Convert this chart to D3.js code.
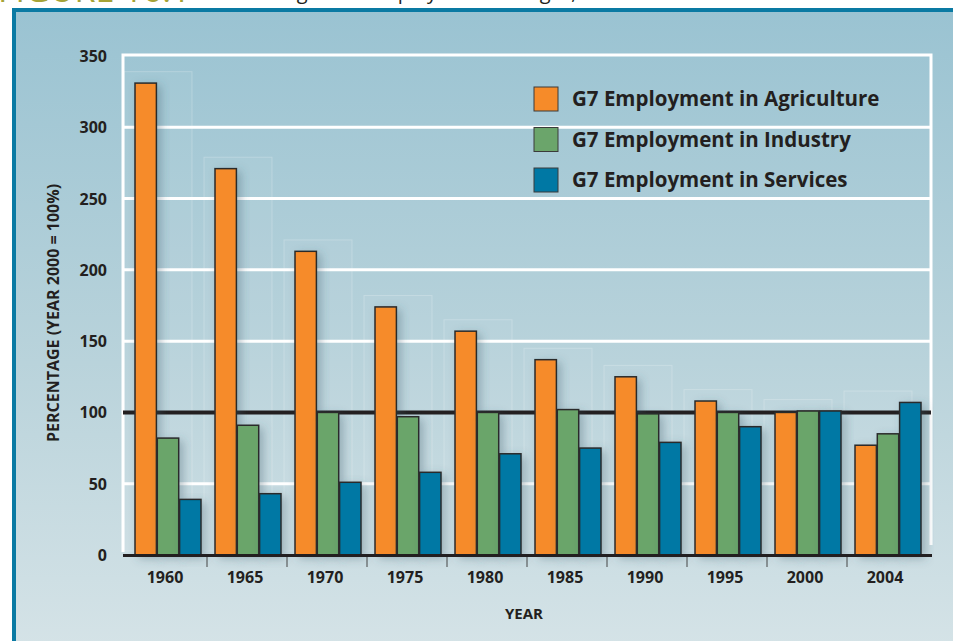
<!DOCTYPE html>
<html>
<head>
    <script src="https://d3js.org/d3.v7.min.js"></script>
    <style type="text/css">
        body { margin: 0; background: #ffffff; overflow: hidden; }
        svg { display: block; }
        text { font-family: "Open Sans", Lato, sans-serif; font-weight: 700; fill: #231f20; }
    </style>
</head>
<body>
    <script type="text/javascript">

        // chart data (percent of year-2000 level)
        var years = ["1960", "1965", "1970", "1975", "1980", "1985", "1990", "1995", "2000", "2004"];
        var agriculture = [331, 271, 213, 174, 157, 137, 125, 108, 100, 77];
        var industry = [82, 91, 100, 97, 100, 102, 99, 100, 101, 85];
        var services = [39, 43, 51, 58, 71, 75, 79, 90, 101, 107];
        var seriesNames = ["G7 Employment in Agriculture", "G7 Employment in Industry", "G7 Employment in Services"];
        var yTicks = [0, 50, 100, 150, 200, 250, 300, 350];

        var w = 953;
        var h = 641;
        var colors = ["#f68b29", "#6ba56b", "#0078a4"];

        var svg = d3.select("body")
            .append("svg")
            .attr("width", w)
            .attr("height", h);

        var defs = svg.append("defs");

        // panel background gradient
        var grad = defs.append("linearGradient")
            .attr("id", "bg")
            .attr("x1", 0).attr("y1", 0)
            .attr("x2", 0).attr("y2", 1);
        grad.append("stop").attr("offset", "0%").attr("stop-color", "#9ac3d2");
        grad.append("stop").attr("offset", "55%").attr("stop-color", "#b9d3db");
        grad.append("stop").attr("offset", "100%").attr("stop-color", "#d5e3e7");

        // soft shadow for the bars
        var shadow = defs.append("filter")
            .attr("id", "shadow")
            .attr("x", "-40%").attr("y", "-10%")
            .attr("width", "200%").attr("height", "130%");
        shadow.append("feDropShadow")
            .attr("dx", 4).attr("dy", 3)
            .attr("stdDeviation", 5)
            .attr("flood-color", "#3c5a66")
            .attr("flood-opacity", 0.35);

        // figure heading, mostly cut off at the top (as in the source page)
        svg.append("text")
            .attr("x", -2).attr("y", 2)
            .style("font-size", "34px")
            .style("fill", "#a6a336")
            .style("font-weight", 400)
            .text("FIGURE 16.1");
        svg.append("text")
            .attr("x", 262).attr("y", -1)
            .style("font-size", "20px")
            .style("font-weight", 400)
            .text("Long-Term Employment Changes, G7");

        // panel with blue border on top and left
        svg.append("rect")
            .attr("x", 14).attr("y", 10)
            .attr("width", w).attr("height", h)
            .attr("fill", "url(#bg)");
        svg.append("rect")
            .attr("x", 12).attr("y", 8)
            .attr("width", w).attr("height", 4)
            .attr("fill", "#0a7aa3");
        svg.append("rect")
            .attr("x", 12).attr("y", 8)
            .attr("width", 4).attr("height", h)
            .attr("fill", "#0a7aa3");

        var plotLeft = 123, plotRight = 931, plotTop = 56, plotBottom = 555;

        var x0 = d3.scaleBand()
            .domain(years)
            .range([127, 927])
            .paddingInner(0)
            .paddingOuter(0);

        var x1 = d3.scaleBand()
            .domain([0, 1, 2])
            .range([8, x0.bandwidth() - 6])
            .paddingInner(0.04);

        var yScale = d3.scaleLinear()
            .domain([0, 350])
            .range([plotBottom, plotTop]);

        function groupMax(i) {
            return Math.max(agriculture[i], industry[i], services[i]);
        }

        // faint decorative frames behind the groups
        svg.selectAll("rect.ghost")
            .data(years)
            .enter()
            .append("rect")
            .attr("class", "ghost")
            .attr("x", function(d) { return x0(d) - 3; })
            .attr("y", function(d, i) { return yScale(groupMax(i) + 8); })
            .attr("width", x0.bandwidth() * 0.85)
            .attr("height", function(d, i) { return plotBottom - 4 - yScale(groupMax(i) + 8); })
            .attr("fill", "rgba(255,255,255,0.04)")
            .attr("stroke", "rgba(255,255,255,0.22)")
            .attr("stroke-width", 1);

        // white frame and gridlines
        svg.append("path")
            .attr("d", "M" + plotLeft + "," + (plotBottom - 3) + "V" + (plotTop - 1) + "H" + plotRight + "V" + (plotBottom - 10))
            .attr("fill", "none")
            .attr("stroke", "#ffffff")
            .attr("stroke-width", 3);

        svg.selectAll("line.grid")
            .data(yTicks.filter(function(d) { return d > 0 && d < 350 && d !== 100; }))
            .enter()
            .append("line")
            .attr("class", "grid")
            .attr("x1", plotLeft).attr("x2", plotRight)
            .attr("y1", function(d) { return yScale(d); })
            .attr("y2", function(d) { return yScale(d); })
            .attr("stroke", "#ffffff")
            .attr("stroke-width", 3);

        // reference line at 100
        svg.append("line")
            .attr("x1", plotLeft).attr("x2", plotRight)
            .attr("y1", yScale(100)).attr("y2", yScale(100))
            .attr("stroke", "#231f20")
            .attr("stroke-width", 4);

        // bars
        var series = [agriculture, industry, services];
        var groups = svg.selectAll("g.year")
            .data(years)
            .enter()
            .append("g")
            .attr("class", "year")
            .attr("transform", function(d) { return "translate(" + x0(d) + ",0)"; });

        groups.selectAll("rect")
            .data(function(d, i) { return series.map(function(s, k) { return { k: k, v: s[i] }; }); })
            .enter()
            .append("rect")
            .attr("x", function(d) { return x1(d.k); })
            .attr("y", function(d) { return yScale(d.v); })
            .attr("width", x1.bandwidth())
            .attr("height", function(d) { return plotBottom - yScale(d.v); })
            .attr("fill", function(d) { return colors[d.k]; })
            .attr("stroke", "#2a2a2a")
            .attr("stroke-width", 1.5)
            .attr("filter", "url(#shadow)");

        // x axis
        svg.append("line")
            .attr("x1", plotLeft).attr("x2", plotRight + 1)
            .attr("y1", plotBottom + 0.5).attr("y2", plotBottom + 0.5)
            .attr("stroke", "#231f20")
            .attr("stroke-width", 3);

        svg.selectAll("line.tick")
            .data(years.slice(1))
            .enter()
            .append("line")
            .attr("class", "tick")
            .attr("x1", function(d) { return x0(d); })
            .attr("x2", function(d) { return x0(d); })
            .attr("y1", plotBottom + 2).attr("y2", plotBottom + 12)
            .attr("stroke", "#444")
            .attr("stroke-width", 1);

        svg.selectAll("text.xlab")
            .data(years)
            .enter()
            .append("text")
            .attr("class", "xlab")
            .attr("x", function(d) { return x0(d) + x0.bandwidth() / 2 - 2; })
            .attr("y", 583)
            .attr("text-anchor", "middle")
            .style("font-size", "16px")
            .text(function(d) { return d; });

        svg.append("text")
            .attr("x", 524).attr("y", 619)
            .attr("text-anchor", "middle")
            .style("font-size", "15px")
            .text("YEAR");

        // y axis labels
        svg.selectAll("text.ylab")
            .data(yTicks)
            .enter()
            .append("text")
            .attr("class", "ylab")
            .attr("x", 107)
            .attr("y", function(d) { return yScale(d) + 6; })
            .attr("text-anchor", "end")
            .style("font-size", "16px")
            .text(function(d) { return d; });

        svg.append("text")
            .attr("transform", "translate(59,313) rotate(-90)")
            .attr("text-anchor", "middle")
            .style("font-size", "16px")
            .text("PERCENTAGE (YEAR 2000 = 100%)");

        // legend
        var legend = svg.selectAll("g.legend")
            .data(seriesNames)
            .enter()
            .append("g")
            .attr("class", "legend")
            .attr("transform", function(d, i) { return "translate(534," + (87 + i * 40.5) + ")"; });

        legend.append("rect")
            .attr("width", 24).attr("height", 24)
            .attr("fill", function(d, i) { return colors[i]; })
            .attr("stroke", "#3a3a3a")
            .attr("stroke-width", 1);

        legend.append("text")
            .attr("x", 38).attr("y", 19)
            .style("font-size", "20.5px")
            .text(function(d) { return d; });

    </script>
</body>
</html>
